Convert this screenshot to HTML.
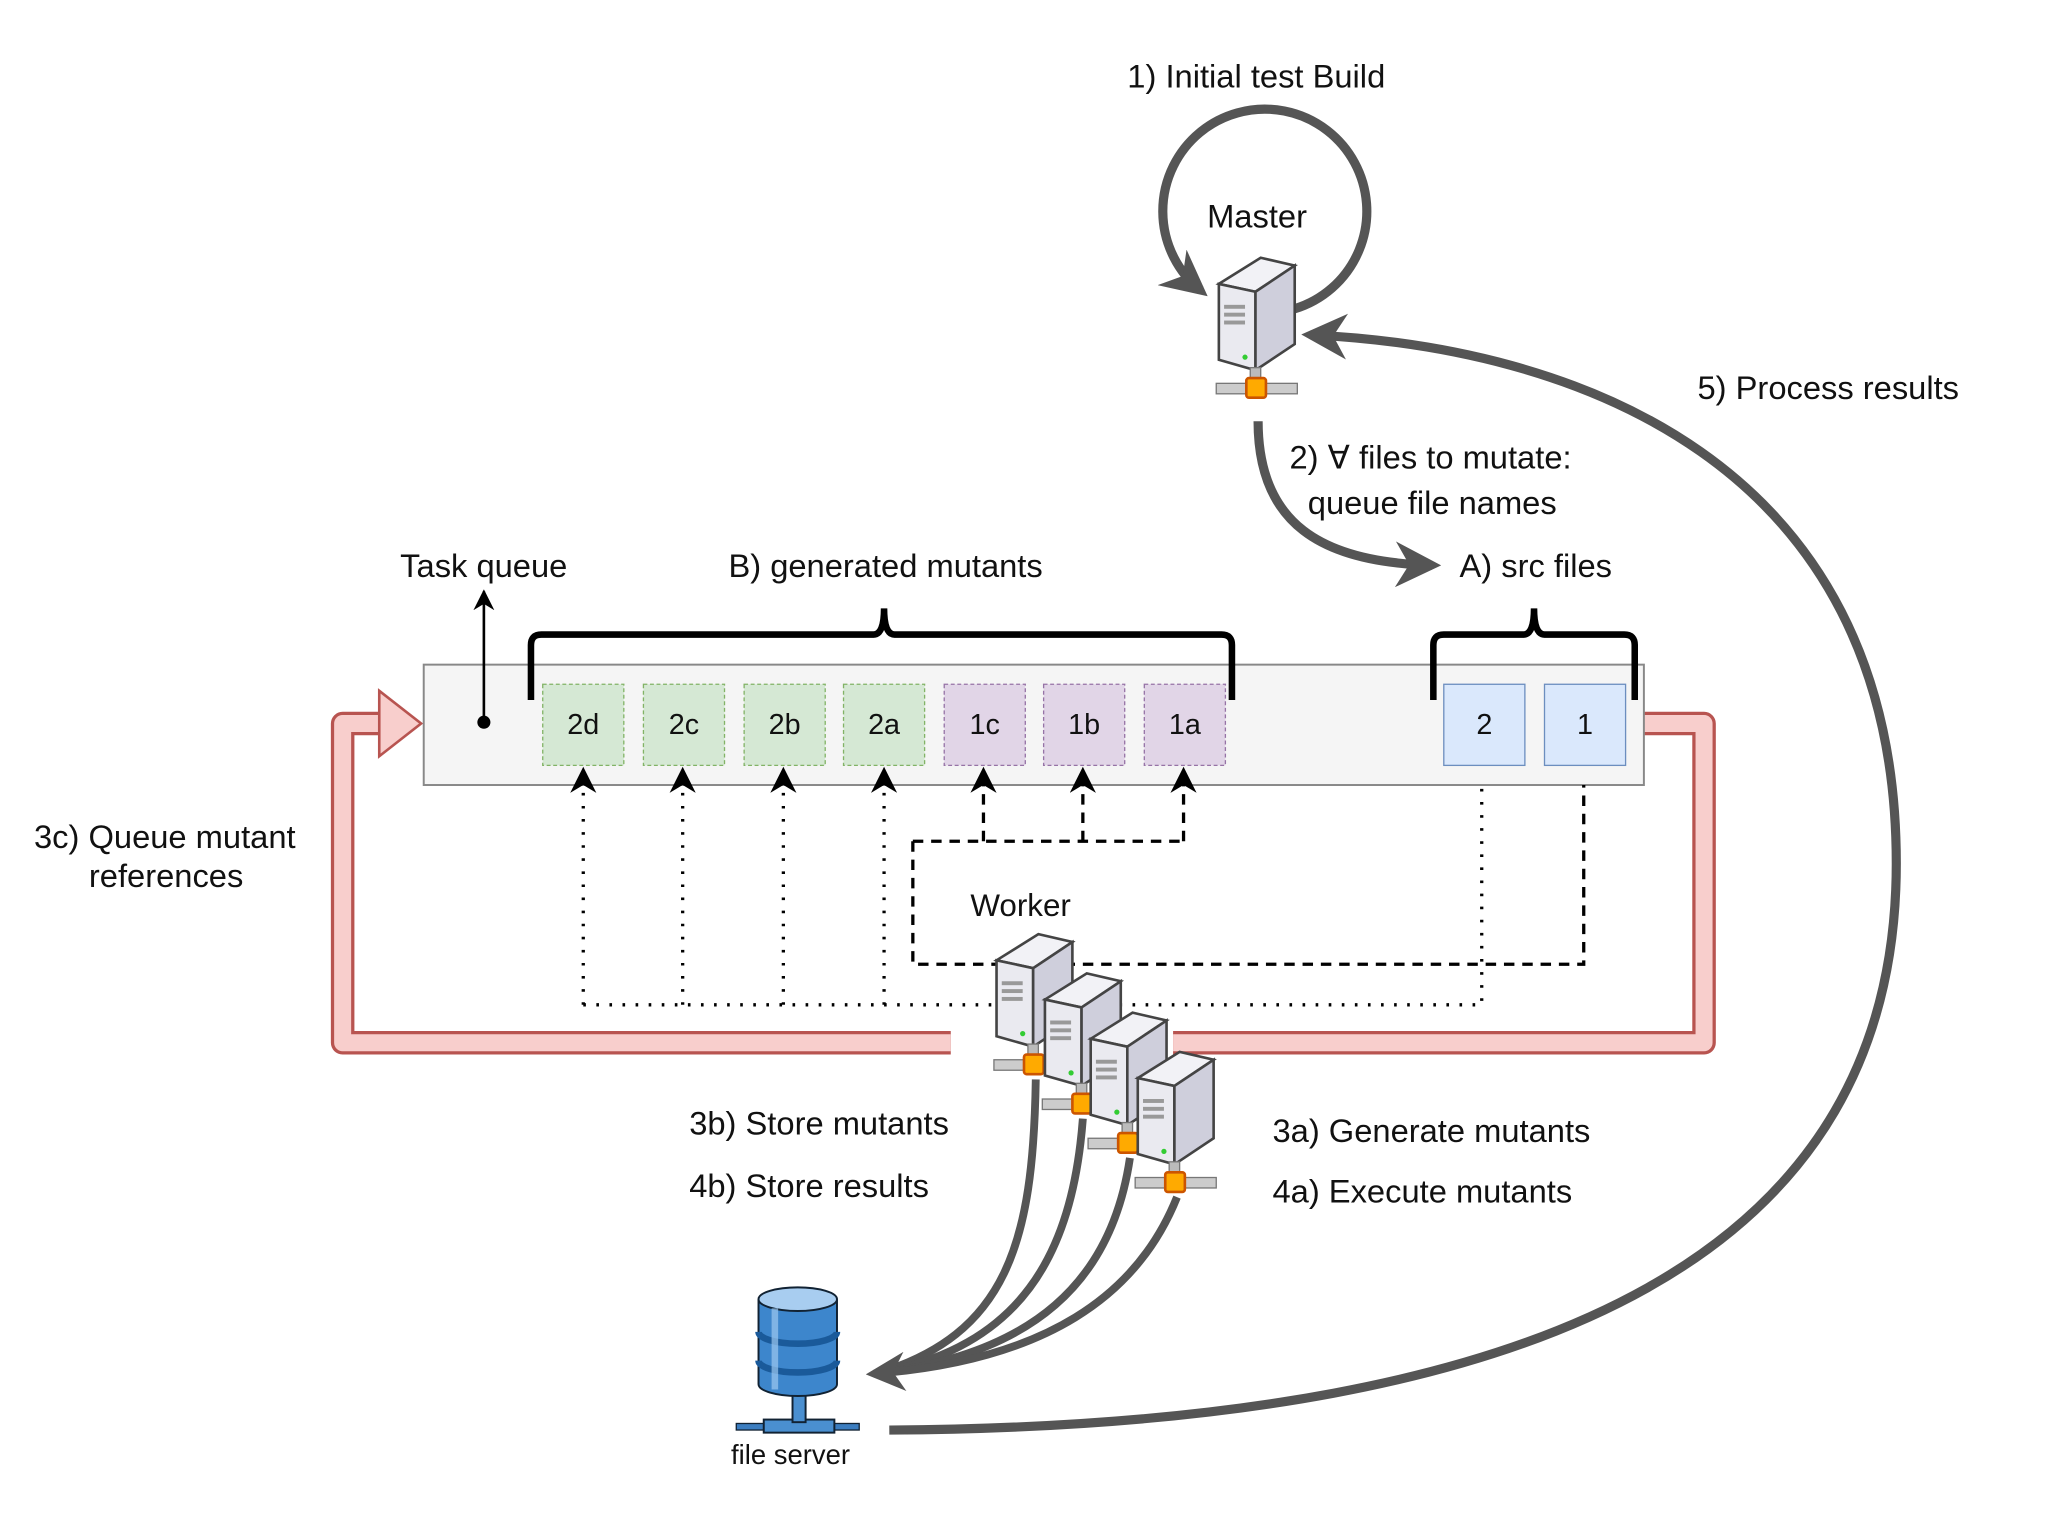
<!DOCTYPE html>
<html><head><meta charset="utf-8"><style>
html,body{margin:0;padding:0;background:#fff;}
svg{display:block;}
text{font-family:"Liberation Sans",sans-serif;fill:#111;}
</style></head><body>
<svg width="2048" height="1536" viewBox="0 0 1566 1174" preserveAspectRatio="none" xmlns="http://www.w3.org/2000/svg">
<defs>
<marker id="ah" viewBox="0 0 10 10" refX="8" refY="5" markerWidth="5" markerHeight="5" orient="auto" markerUnits="strokeWidth">
<path d="M0,0 L10,5 L0,10 L3,5 z" fill="#555"/></marker>
<marker id="sa" viewBox="0 0 10 10" refX="9" refY="5" markerWidth="8" markerHeight="8" orient="auto" markerUnits="strokeWidth">
<path d="M0,0 L10,5 L0,10 L3,5 z" fill="#000"/></marker>
<g id="srv">
<polygon points="2,22 34,2 60,8 30,28" fill="#f2f2f6" stroke="#444" stroke-width="2"/>
<polygon points="2,22 30,28 30,88 2,80" fill="#eaeaf0" stroke="#444" stroke-width="2"/>
<polygon points="30,28 60,8 60,68 30,88" fill="#cfcfdc" stroke="#444" stroke-width="2"/>
<rect x="6" y="38" width="16" height="3" fill="#999"/><rect x="6" y="44" width="16" height="3" fill="#999"/><rect x="6" y="50" width="16" height="3" fill="#999"/>
<circle cx="22" cy="78" r="2" fill="#3c3"/>
<rect x="26" y="86" width="8" height="14" fill="#bbb" stroke="#777"/>
<rect x="0" y="98" width="62" height="8" fill="#ccc" stroke="#777"/>
<rect x="23" y="94" width="15" height="15" rx="2" fill="#fa0" stroke="#c50" stroke-width="2"/>
</g>
</defs>

<path d="M 990 236 A 78 78 0 1 0 918 222" fill="none" stroke="#555" stroke-width="7" marker-end="url(#ah)"/>
<use href="#srv" x="930" y="195"/>
<text x="862" y="67" font-size="25">1) Initial test Build</text>
<text x="923" y="174" font-size="25">Master</text>

<path d="M 680 1093 C 1200 1090, 1450 950, 1450 660 C 1450 350, 1200 265, 1002 256" fill="none" stroke="#555" stroke-width="7" marker-end="url(#ah)"/>
<text x="1298" y="305" font-size="25">5) Process results</text>

<path d="M 962 322 C 962 400, 1010 430, 1095 432" fill="none" stroke="#555" stroke-width="7" marker-end="url(#ah)"/>
<text x="986" y="358" font-size="25">2) ∀ files to mutate:</text>
<text x="1000" y="393" font-size="25">queue file names</text>
<text x="1116" y="441" font-size="25">A) src files</text>
<text x="557" y="441" font-size="25">B) generated mutants</text>
<text x="306" y="441" font-size="25">Task queue</text>

<path d="M 727 797 L 262 797 L 262 553 L 295 553 M 1257 553 L 1303 553 L 1303 797 L 897 797" fill="none" stroke="#b85450" stroke-width="18" stroke-linejoin="round"/>
<path d="M 727 797 L 262 797 L 262 553 L 295 553 M 1257 553 L 1303 553 L 1303 797 L 897 797" fill="none" stroke="#f8cecc" stroke-width="13" stroke-linejoin="round"/>
<polygon points="290,528 322,553 290,578" fill="#f8cecc" stroke="#b85450" stroke-width="2"/>
<text x="26" y="648" font-size="25">3c) Queue mutant</text>
<text x="68" y="678" font-size="25">references</text>

<rect x="324" y="508" width="933" height="92" fill="#f5f5f5" stroke="#888" stroke-width="1.5"/>
<g font-size="22" text-anchor="middle">
<rect x="415" y="523" width="62" height="62" fill="#d5e8d4" stroke="#82b366" stroke-dasharray="3,2"/><text x="446" y="561">2d</text>
<rect x="492" y="523" width="62" height="62" fill="#d5e8d4" stroke="#82b366" stroke-dasharray="3,2"/><text x="523" y="561">2c</text>
<rect x="569" y="523" width="62" height="62" fill="#d5e8d4" stroke="#82b366" stroke-dasharray="3,2"/><text x="600" y="561">2b</text>
<rect x="645" y="523" width="62" height="62" fill="#d5e8d4" stroke="#82b366" stroke-dasharray="3,2"/><text x="676" y="561">2a</text>
<rect x="722" y="523" width="62" height="62" fill="#e1d5e7" stroke="#9673a6" stroke-dasharray="3,2"/><text x="753" y="561">1c</text>
<rect x="798" y="523" width="62" height="62" fill="#e1d5e7" stroke="#9673a6" stroke-dasharray="3,2"/><text x="829" y="561">1b</text>
<rect x="875" y="523" width="62" height="62" fill="#e1d5e7" stroke="#9673a6" stroke-dasharray="3,2"/><text x="906" y="561">1a</text>
<rect x="1104" y="523" width="62" height="62" fill="#dae8fc" stroke="#6c8ebf"/><text x="1135" y="561">2</text>
<rect x="1181" y="523" width="62" height="62" fill="#dae8fc" stroke="#6c8ebf"/><text x="1212" y="561">1</text>
</g>
<path d="M 406 535 L 406 493 Q 406 485 414 485 L 668 485 Q 676 485 676 465 Q 676 485 684 485 L 934 485 Q 942 485 942 493 L 942 535" fill="none" stroke="#000" stroke-width="5"/>
<path d="M 1096 535 L 1096 493 Q 1096 485 1104 485 L 1165 485 Q 1173 485 1173 465 Q 1173 485 1181 485 L 1242 485 Q 1250 485 1250 493 L 1250 535" fill="none" stroke="#000" stroke-width="5"/>
<line x1="370" y1="552" x2="370" y2="452" stroke="#000" stroke-width="2" marker-end="url(#sa)"/>
<circle cx="370" cy="552" r="5" fill="#000"/>

<g fill="none" stroke="#000" stroke-width="2.5">
<path d="M 446 768 L 446 588" stroke-dasharray="2,8" marker-end="url(#sa)"/>
<path d="M 522 768 L 522 588" stroke-dasharray="2,8" marker-end="url(#sa)"/>
<path d="M 599 768 L 599 588" stroke-dasharray="2,8" marker-end="url(#sa)"/>
<path d="M 676 768 L 676 588" stroke-dasharray="2,8" marker-end="url(#sa)"/>
<path d="M 446 768 L 1133 768 L 1133 600" stroke-dasharray="2,8"/>
<path d="M 752 643 L 752 588" stroke-dasharray="8,6" marker-end="url(#sa)"/>
<path d="M 828 643 L 828 588" stroke-dasharray="8,6" marker-end="url(#sa)"/>
<path d="M 905 643 L 905 588" stroke-dasharray="8,6" marker-end="url(#sa)"/>
<path d="M 698 643 L 905 643 M 698 643 L 698 737 L 1211 737 L 1211 600" stroke-dasharray="8,6"/>
</g>
<text x="742" y="700" font-size="24">Worker</text>

<g fill="none" stroke="#555" stroke-width="6">
<path d="M 792 825 C 790 950, 770 1020, 670 1050"/>
<path d="M 828 855 C 820 960, 780 1030, 670 1050"/>
<path d="M 864 885 C 850 980, 790 1035, 670 1050"/>
<path d="M 900 915 C 870 990, 800 1040, 668 1050" marker-end="url(#ah)"/>
</g>
<use href="#srv" x="760" y="712"/>
<use href="#srv" x="797" y="742"/>
<use href="#srv" x="832" y="772"/>
<use href="#srv" x="868" y="802"/>

<text x="527" y="867" font-size="25">3b) Store mutants</text>
<text x="527" y="915" font-size="25">4b) Store results</text>
<text x="973" y="873" font-size="25">3a) Generate mutants</text>
<text x="973" y="919" font-size="25">4a) Execute mutants</text>

<rect x="563" y="1088" width="94" height="5" fill="#3b7dc0" stroke="#123"/>
<rect x="584" y="1085" width="54" height="10" fill="#4a8fd0" stroke="#123" stroke-width="1.5"/>
<rect x="606" y="1062" width="10" height="25" fill="#4a8fd0" stroke="#123" stroke-width="1.5"/>
<path d="M 580 993 L 580 1058 A 30 9 0 0 0 640 1058 L 640 993" fill="#3d86cc" stroke="#123" stroke-width="1.5"/>
<ellipse cx="610" cy="993" rx="30" ry="9" fill="#a8cdf0" stroke="#123" stroke-width="1.5"/>
<path d="M 580 1018 A 30 9 0 0 0 640 1018" fill="none" stroke="#1a5a9a" stroke-width="5"/>
<path d="M 580 1040 A 30 9 0 0 0 640 1040" fill="none" stroke="#1a5a9a" stroke-width="5"/>
<rect x="590" y="1000" width="5" height="62" fill="#9cc8f0" opacity="0.7"/>
<text x="559" y="1119" font-size="21">file server</text>
</svg>
</body></html>
